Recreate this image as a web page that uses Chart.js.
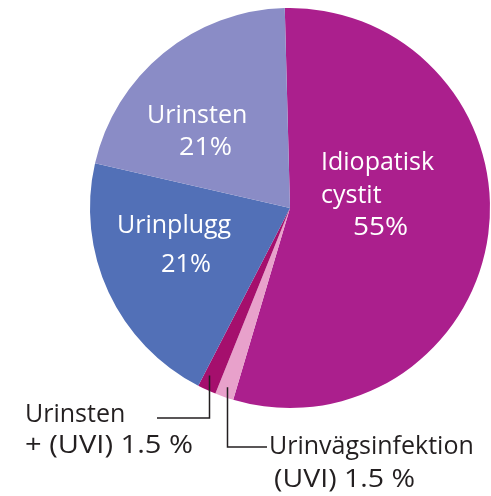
<!DOCTYPE html>
<html>
<head>
<meta charset="utf-8">
<script src="https://cdn.jsdelivr.net/npm/chart.js@4"></script>
<style>
  html, body { margin: 0; padding: 0; background: #ffffff; }
  #wrap { width: 491px; height: 496px; }
</style>
</head>
<body>
<div id="wrap"><canvas id="chart" width="491" height="496"></canvas></div>
<script>
// --- data ---
const categories = [
  'Idiopatisk cystit',
  'Urinvägsinfektion (UVI)',
  'Urinsten + (UVI)',
  'Urinplugg',
  'Urinsten'
];
const shares = [55, 1.5, 1.5, 21, 21];
const sliceColors = ['#ab1f8d', '#e8a1cb', '#a50f6d', '#5270b7', '#8a8cc6'];

// text lines for each slice (inside labels are white, outside ones black)
const labelLines = [
  ['Idiopatisk', 'cystit', '55%'],
  ['Urinvägsinfektion', '(UVI) 1.5 %'],
  ['Urinsten', '+ (UVI) 1.5 %'],
  ['Urinplugg', '21%'],
  ['Urinsten', '21%']
];

const FONT = '25px "Open Sans", sans-serif';

// inside labels: [left x, baseline, width to fit (0 = natural)]
const insideText = {
  0: [[321, 170, 0], [321, 203, 0], [353, 235, 55]],
  3: [[117, 233, 0], [161, 272, 50]],
  4: [[147, 123, 0], [179, 155, 53]]
};

// outside labels with leader lines
const outsideText = {
  1: { lines: [[269, 454, 0], [274, 487, 141]], elbowY: 447, endX: 267, frac: 0.53, rad: 0.95 },
  2: { lines: [[25, 422, 0], [25, 453, 168]], elbowY: 418, endX: 157, frac: 0.72, rad: 0.93 }
};

function fitText(ctx, txt, x, y, w) {
  const nat = ctx.measureText(txt).width;
  if (!w) { ctx.fillText(txt, x, y); return; }
  ctx.save();
  ctx.translate(x, y);
  ctx.scale(w / nat, 1);
  ctx.fillText(txt, 0, 0);
  ctx.restore();
}

const labelPlugin = {
  id: 'sliceLabels',
  afterDatasetsDraw(chart) {
    const ctx = chart.ctx;
    const arcs = chart.getDatasetMeta(0).data;
    ctx.save();
    ctx.font = FONT;
    ctx.textAlign = 'left';
    ctx.textBaseline = 'alphabetic';

    // white text inside the big slices
    ctx.fillStyle = '#ffffff';
    Object.keys(insideText).forEach(k => {
      insideText[k].forEach((p, j) => fitText(ctx, labelLines[k][j], p[0], p[1], p[2]));
    });

    // leader lines + black text for the thin slices
    Object.keys(outsideText).forEach(k => {
      const o = outsideText[k];
      const a = arcs[k];
      const ang = a.startAngle + (a.endAngle - a.startAngle) * o.frac;
      const sx = Math.round(a.x + Math.cos(ang) * a.outerRadius * o.rad) + 0.5;
      const sy = a.y + Math.sin(ang) * a.outerRadius * o.rad;
      ctx.strokeStyle = '#231f20';
      ctx.lineWidth = 1.5;
      ctx.beginPath();
      ctx.moveTo(sx, sy);
      ctx.lineTo(sx, o.elbowY);
      ctx.lineTo(o.endX, o.elbowY);
      ctx.stroke();

      ctx.fillStyle = '#231f20';
      o.lines.forEach((p, j) => fitText(ctx, labelLines[k][j], p[0], p[1], p[2]));
    });
    ctx.restore();
  }
};

new Chart(document.getElementById('chart').getContext('2d'), {
  type: 'pie',
  data: {
    labels: categories,
    datasets: [{
      data: shares,
      backgroundColor: sliceColors,
      borderWidth: 0
    }]
  },
  options: {
    responsive: false,
    animation: false,
    rotation: -1.5,
    layout: { padding: { left: 90, right: 1, top: 8, bottom: 88 } },
    plugins: {
      legend: { display: false },
      tooltip: { enabled: false }
    }
  },
  plugins: [labelPlugin]
});
</script>
</body>
</html>
